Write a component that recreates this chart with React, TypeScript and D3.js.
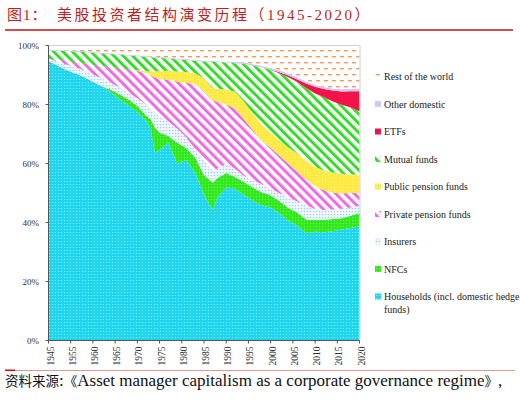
import React from 'react';
import * as d3 from 'd3';

// shares of US corporate equity (percent)
const years = [1950, 1952, 1954, 1956, 1958, 1960, 1962, 1964, 1966, 1968, 1970, 1972, 1973, 1974, 1975, 1977, 1979, 1980, 1981, 1983, 1985, 1987, 1988, 1990, 1992, 1994, 1996, 1998, 2000, 2002, 2004, 2006, 2008, 2010, 2012, 2014, 2016, 2018, 2020];
const households = [94.7, 93.1, 91.7, 90.5, 89.3, 87.7, 86.1, 84.2, 81.8, 79.7, 77.4, 74.4, 71.5, 63.6, 64.5, 67.0, 59.7, 60.6, 61.1, 56.8, 49.5, 44.2, 48.4, 51.9, 51.4, 49.3, 47.3, 45.9, 45.1, 43.2, 40.6, 38.9, 36.3, 36.9, 36.7, 37.1, 37.6, 38.1, 38.8];
const nfcs = [0, 0, 0, 0, 0, 0, 0, 0.9, 1.7, 2.0, 2.1, 1.7, 3.4, 8.5, 5.9, 2.3, 7.3, 5.6, 4.1, 5.1, 6.6, 9.3, 6.7, 4.9, 4.0, 4.4, 4.5, 4.4, 4.1, 4.1, 4.3, 4.5, 4.7, 4.1, 4.3, 4.2, 3.8, 4.2, 4.5];
const insurers = [0.8, 1.4, 1.9, 2.0, 2.3, 2.4, 2.7, 2.3, 2.3, 2.3, 2.5, 3.7, 3.6, 4.9, 5.5, 4.9, 4.7, 4.2, 3.6, 2.9, 4.9, 3.8, 3.1, 3.2, 2.8, 2.1, 2.5, 2.7, 2.3, 2.7, 3.6, 3.7, 4.7, 3.7, 3.3, 3.2, 3.3, 2.8, 2.3];
const privatePension = [0, 0.6, 1.2, 1.7, 2.3, 3.3, 4.2, 5.3, 6.5, 7.9, 9.3, 10.8, 11.2, 12.1, 12.7, 14.2, 16.0, 17.1, 18.5, 22.0, 23.5, 24.1, 22.7, 20.0, 20.5, 19.2, 16.9, 14.8, 13.8, 12.7, 11.4, 10.2, 8.9, 7.6, 6.7, 5.8, 5.1, 5.0, 4.5];
const publicPension = [0, 0, 0, 0, 0, 0, 0, 0, 0, 0, 0.2, 0.6, 1.5, 2.2, 2.6, 3.0, 3.4, 3.6, 3.6, 3.6, 4.4, 4.2, 4.4, 5.2, 5.6, 6.0, 5.6, 5.5, 5.1, 5.2, 5.5, 6.1, 6.3, 6.6, 6.7, 6.8, 6.7, 6.2, 6.2];
const mutualFunds = [2.8, 3.0, 3.3, 3.6, 3.9, 4.1, 4.2, 4.4, 4.6, 4.7, 4.8, 4.9, 4.7, 4.6, 4.5, 4.2, 4.1, 4.1, 4.1, 4.2, 5.7, 8.9, 9.1, 9.1, 9.7, 12.7, 16.3, 19.4, 21.3, 22.8, 23.8, 24.2, 24.6, 24.9, 24.8, 24.1, 23.4, 22.7, 21.5];
const etfs = [0, 0, 0, 0, 0, 0, 0, 0, 0, 0, 0, 0, 0, 0, 0, 0, 0, 0, 0, 0, 0, 0, 0, 0, 0, 0, 0, 0, 0.1, 0.3, 0.6, 0.9, 1.5, 2.3, 2.8, 3.7, 4.5, 5.5, 6.8];
const otherDomestic = [0.3, 0.3, 0.3, 0.3, 0.3, 0.3, 0.3, 0.3, 0.3, 0.3, 0.3, 0.3, 0.3, 0.3, 0.3, 0.3, 0.3, 0.3, 0.3, 0.3, 0.3, 0.3, 0.3, 0.3, 0.5, 0.5, 0.5, 0.5, 0.5, 0.7, 0.7, 0.7, 0.7, 0.7, 0.7, 0.7, 0.8, 0.8, 0.8];
const restOfWorld = [1.4, 1.5, 1.6, 1.8, 1.9, 2.2, 2.4, 2.6, 2.8, 3.1, 3.3, 3.5, 3.7, 3.8, 3.9, 4.1, 4.4, 4.5, 4.6, 4.9, 5.1, 5.3, 5.3, 5.5, 5.5, 5.8, 6.3, 6.9, 7.7, 8.4, 9.5, 10.8, 12.2, 13.3, 14.1, 14.6, 14.8, 14.7, 14.7];

const seriesKeys = ['households', 'nfcs', 'insurers', 'privatePension', 'publicPension', 'mutualFunds', 'etfs', 'otherDomestic', 'restOfWorld'];
const seriesNames = ['Households (incl. domestic hedge|funds)', 'NFCs', 'Insurers', 'Private pension funds', 'Public pension funds', 'Mutual funds', 'ETFs', 'Other domestic', 'Rest of the world'];
const tickLabels = ['1945', '1955', '1960', '1965', '1970', '1975', '1980', '1985', '1990', '1995', '2000', '2005', '2010', '2015', '2020'];
const yTicks = [0, 0.2, 0.4, 0.6, 0.8, 1];

const serif = "Liberation Serif, 'Times New Roman', Times, serif";
const cjk = "Liberation Serif, 'Times New Roman', 'Noto Sans CJK SC', serif";

function Patterns() {
  const dots = (id: string, size: number, bg: string, fg: string, r: number) => (
    <pattern id={id} width={size} height={size} patternUnits="userSpaceOnUse">
      <rect width={size} height={size} fill={bg} />
      <circle cx={size / 2} cy={size / 2} r={r} fill={fg} />
    </pattern>
  );
  const stripes = (id: string, color: string) => (
    <pattern id={id} width={6.6} height={6.6} patternUnits="userSpaceOnUse" patternTransform="rotate(-45)">
      <rect width={6.6} height={6.6} fill="#fff" />
      <rect width={3} height={6.6} fill={color} />
    </pattern>
  );
  return (
    <defs>
      {dots('p-households', 3, '#1cd6f0', '#a8f2ff', 0.6)}
      {dots('p-nfcs', 3, '#2ee81a', '#7cff5e', 0.65)}
      {dots('p-insurers', 3, '#f4faff', '#9fd0f2', 0.85)}
      {stripes('p-privatePension', '#f26ae4')}
      {dots('p-publicPension', 3, '#ffe93a', '#fff39a', 0.65)}
      {stripes('p-mutualFunds', '#35dd2a')}
      <pattern id="p-etfs" width={4} height={4} patternUnits="userSpaceOnUse">
        <rect width={4} height={4} fill="#f2134b" />
      </pattern>
      {dots('p-otherDomestic', 2, '#ece8ff', '#9b8cf0', 0.7)}
      <pattern id="p-restOfWorld" width={8} height={12} patternUnits="userSpaceOnUse">
        <rect width={8} height={12} fill="#fff" />
        <rect x={0} y={2} width={4} height={1.4} fill="#f79a55" />
        <rect x={4} y={8} width={4} height={1.4} fill="#f79a55" />
      </pattern>
    </defs>
  );
}

export default function App() {
  const x = d3.scaleLinear().domain([1950, 2020]).range([48.5, 359.5]);
  const xTick = d3.scalePoint<string>().domain(tickLabels).range([48.5, 359.5]);
  const y = d3.scaleLinear().domain([0, 1]).range([340.5, 45.5]);

  const columns: Record<string, number[]> = { households, nfcs, insurers, privatePension, publicPension, mutualFunds, etfs, otherDomestic, restOfWorld };
  const rows = years.map((year, i) => {
    const row: any = { year };
    seriesKeys.forEach(k => { row[k] = columns[k][i]; });
    return row;
  });
  const layers = d3.stack<any>().keys(seriesKeys).offset(d3.stackOffsetExpand)(rows);
  const area = d3.area<any>()
    .x(d => x(d.data.year))
    .y0(d => y(d[0]))
    .y1(d => y(d[1]));

  const legendOrder = seriesKeys.map((k, i) => ({ key: k, name: seriesNames[i] })).reverse();

  return (
    <svg width={520} height={402} style={{ position: 'absolute', left: 0, top: 0, background: '#fff' }}>
      <Patterns />
      {/* title */}
      <text x={7} y={19.5} fontFamily={cjk} fontSize={15} fill="#bf1e24" letterSpacing={1}>图1：</text>
      <text x={57} y={19.5} fontFamily={cjk} fontSize={15} fill="#bf1e24" letterSpacing={2.5}>美股投资者结构演变历程（1945-2020）</text>
      <line x1={5} x2={513} y1={30} y2={30} stroke="#c8101a" strokeWidth={1.4} />

      {/* stacked areas */}
      {layers.map(layer => (
        <path key={layer.key} d={area(layer) || ''} fill={`url(#p-${layer.key})`} />
      ))}

      {/* frame and axes */}
      <line x1={48.5} x2={360} y1={45.5} y2={45.5} stroke="#d0d0d0" />
      <line x1={360} x2={360} y1={45.5} y2={340.5} stroke="#d0d0d0" />
      <line x1={48.5} x2={48.5} y1={45.5} y2={340.5} stroke="#555" />
      <line x1={48.5} x2={359.5} y1={340.5} y2={340.5} stroke="#555" />
      {yTicks.map(t => (
        <g key={t} transform={`translate(0,${y(t)})`}>
          <line x1={45.5} x2={48.5} stroke="#555" />
          <text x={39} y={3} textAnchor="end" fontFamily={serif} fontSize={9} fill="#333">{`${Math.round(t * 100)}%`}</text>
        </g>
      ))}
      {tickLabels.map(l => (
        <g key={l} transform={`translate(${xTick(l)},0)`}>
          <line y1={340.5} y2={343.5} stroke="#555" />
          <text transform="translate(5,346.5) rotate(-90)" textAnchor="end" fontFamily={serif} fontSize={9.5} fill="#333">{l}</text>
        </g>
      ))}

      {/* legend */}
      {legendOrder.map((s, i) => {
        const cy = 77 + i * 27.5;
        const lines = s.name.split('|');
        return (
          <g key={s.key}>
            <rect x={375} y={cy - 3.5} width={6} height={6} fill={`url(#p-${s.key})`} />
            {lines.map((ln, j) => (
              <text key={j} x={384} y={cy + 3.3 + j * 12.3} fontFamily={serif} fontSize={10} fill="#222">{ln}</text>
            ))}
          </g>
        );
      })}

      {/* source */}
      <line x1={5} x2={515} y1={370.5} y2={370.5} stroke="#e07878" strokeWidth={0.8} />
      <line x1={5} x2={15} y1={370.3} y2={370.3} stroke="#cc1111" strokeWidth={1.6} />
      <text x={5} y={386} fill="#111">
        <tspan fontFamily={cjk} fontSize={13.5}>资料来源</tspan>
        <tspan fontFamily={serif} fontSize={17}>:</tspan>
        <tspan fontFamily={cjk} fontSize={13.5}>《</tspan>
        <tspan fontFamily={serif} fontSize={17}>Asset manager capitalism as a corporate governance regime</tspan>
        <tspan fontFamily={cjk} fontSize={13.5}>》</tspan>
        <tspan fontFamily={serif} fontSize={17}>,</tspan>
      </text>
    </svg>
  );
}
